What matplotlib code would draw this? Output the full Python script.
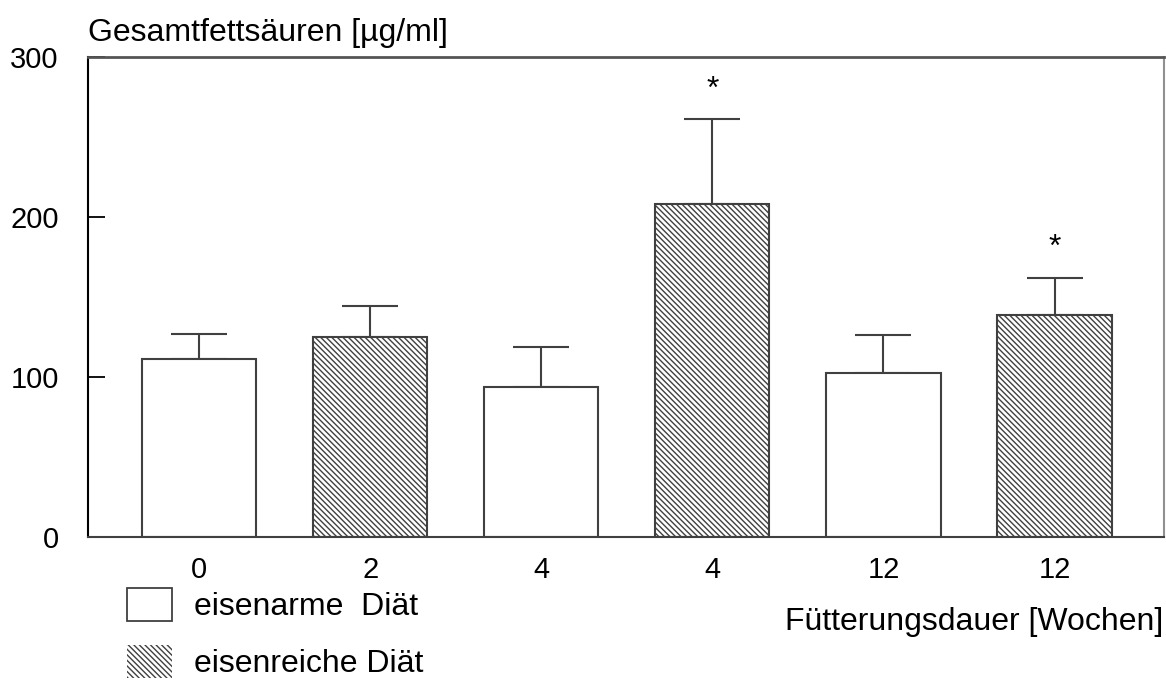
import matplotlib
matplotlib.use("Agg")
import matplotlib.pyplot as plt
from matplotlib.patches import Patch

plt.rcParams["font.family"] = ["Liberation Sans", "DejaVu Sans"]
plt.rcParams["hatch.linewidth"] = 1.0
plt.rcParams["hatch.color"] = "#303030"

# Gesamtfettsäuren je Gruppe (Mittelwert + SEM)
weeks = ["0", "2", "4", "4", "12", "12"]
means = [111, 125, 94, 208, 102.5, 139]
sem = [16, 19.5, 25, 53, 23.5, 23]
iron_rich = [False, True, False, True, False, True]
significant = [False, False, False, True, False, True]

HATCH = "\\" * 6


def main():
    fig = plt.figure(figsize=(11.66, 6.8), dpi=100)
    ax = fig.add_axes([88 / 1166, 1 - 537 / 680, 1076 / 1166, 480 / 680])

    xs = list(range(len(means)))
    for x, m, e, rich in zip(xs, means, sem, iron_rich):
        ax.bar(x, m, width=0.667, facecolor="white", edgecolor="#404040",
               linewidth=1.5, hatch=HATCH if rich else None, zorder=2)
        ax.errorbar(x, m, yerr=[[0], [e]], fmt="none", ecolor="#404040",
                    elinewidth=1.5, capsize=20.5, capthick=1.5, zorder=1)

    # Signifikanzsterne über den Fehlerbalken
    for x, m, e, sig in zip(xs, means, sem, significant):
        if sig:
            ax.text(x, m + e + 9, "*", ha="center", va="bottom", fontsize=23)

    ax.set_xlim(-0.65, 5.64)
    ax.set_ylim(0, 300)
    ax.set_yticks([0, 100, 200, 300])
    ax.set_xticks(xs)
    ax.set_xticklabels(weeks)
    ax.tick_params(axis="y", direction="in", length=12, width=1.3,
                   labelsize=21, pad=21, color="black")
    ax.tick_params(axis="x", length=0, labelsize=21, pad=14)

    ax.spines["left"].set_linewidth(1.5)
    ax.spines["left"].set_color("black")
    ax.spines["bottom"].set_linewidth(1.5)
    ax.spines["bottom"].set_color("#404040")
    ax.spines["top"].set_linewidth(2)
    ax.spines["top"].set_color("#555555")
    ax.spines["right"].set_linewidth(1.5)
    ax.spines["right"].set_color("#909090")

    fig.text(88 / 1166, 1 - 33 / 680, "Gesamtfettsäuren [µg/ml]",
             ha="left", va="center", fontsize=23)
    fig.text(1163 / 1166, 1 - 622 / 680, "Fütterungsdauer [Wochen]",
             ha="right", va="center", fontsize=23)

    handles = [
        Patch(facecolor="white", edgecolor="#404040", linewidth=1.3),
        Patch(facecolor="white", edgecolor="#404040", linewidth=0,
              hatch=HATCH),
    ]
    fig.legend(handles, ["eisenarme  Diät", "eisenreiche Diät"],
               loc="upper left", bbox_to_anchor=(124 / 1166, 1 - 585 / 680),
               frameon=False, fontsize=23, handlelength=1.4,
               handleheight=1.2, labelspacing=0.72, handletextpad=0.7,
               borderaxespad=0, borderpad=0.1)

    fig.savefig("out.png", dpi=100)


if __name__ == "__main__":
    main()
